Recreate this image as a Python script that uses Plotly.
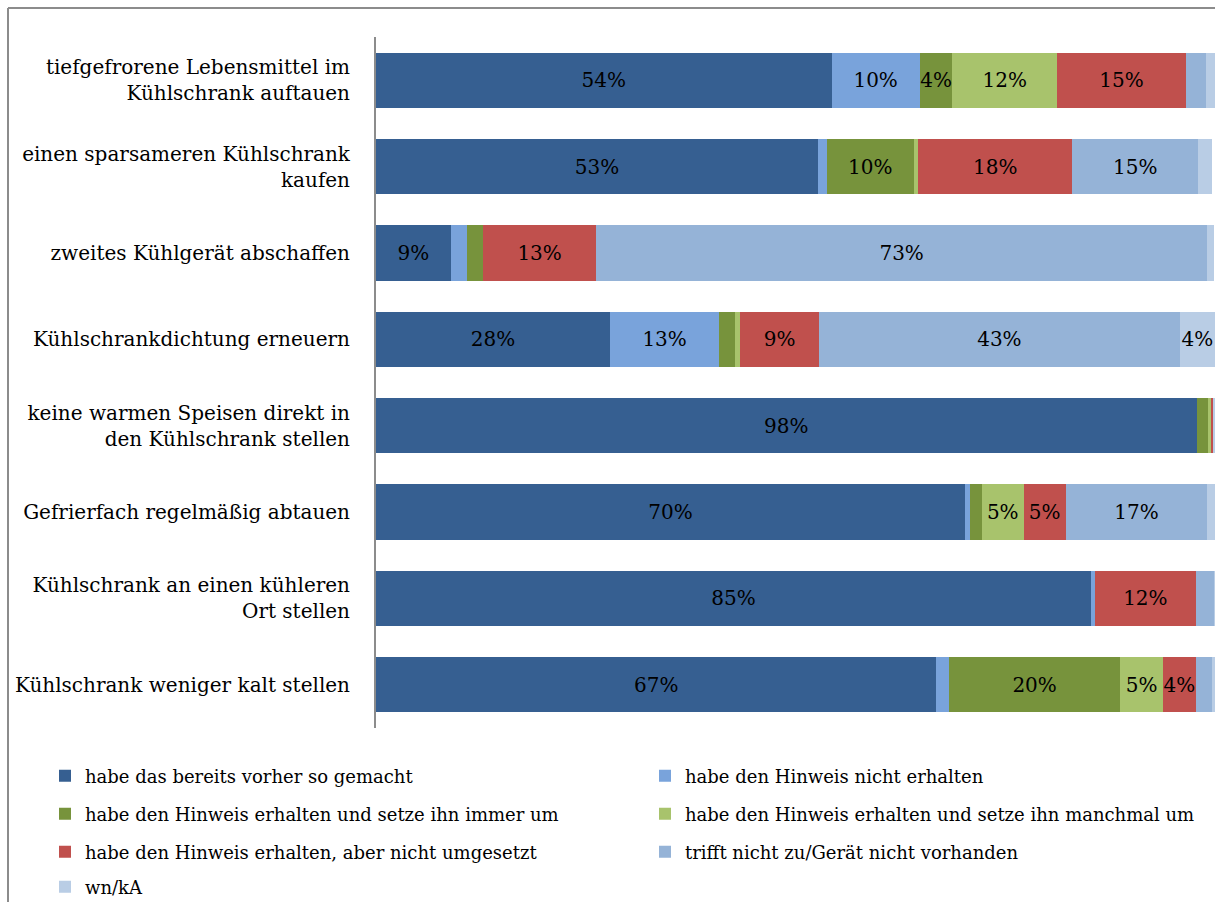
import plotly.graph_objects as go

categories = [
    "tiefgefrorene Lebensmittel im<br>Kühlschrank auftauen",
    "einen sparsameren Kühlschrank<br>kaufen",
    "zweites Kühlgerät abschaffen",
    "Kühlschrankdichtung erneuern",
    "keine warmen Speisen direkt in<br>den Kühlschrank stellen",
    "Gefrierfach regelmäßig abtauen",
    "Kühlschrank an einen kühleren<br>Ort stellen",
    "Kühlschrank weniger kalt stellen",
]

series_names = [
    "habe das bereits vorher so gemacht",
    "habe den Hinweis nicht erhalten",
    "habe den Hinweis erhalten und setze ihn immer um",
    "habe den Hinweis erhalten und setze ihn manchmal um",
    "habe den Hinweis erhalten, aber nicht umgesetzt",
    "trifft nicht zu/Gerät nicht vorhanden",
    "wn/kA",
]

bereits = [54.3, 52.7, 8.9, 27.9, 97.8, 70.2, 85.2, 66.8]
nicht_erhalten = [10.5, 1.0, 2.0, 13.0, 0.0, 0.6, 0.5, 1.5]
immer = [3.9, 10.4, 1.9, 1.9, 1.4, 1.4, 0.0, 20.4]
manchmal = [12.5, 0.5, 0.0, 0.6, 0.4, 5.0, 0.0, 5.1]
nicht_umgesetzt = [15.3, 18.4, 13.4, 9.4, 0.2, 5.0, 12.0, 3.9]
trifft_nicht = [2.4, 15.0, 72.9, 43.0, 0.0, 16.9, 2.2, 1.9]
wn_ka = [1.1, 1.7, 0.8, 4.2, 0.2, 0.9, 0.1, 0.4]

series_values = [bereits, nicht_erhalten, immer, manchmal, nicht_umgesetzt, trifft_nicht, wn_ka]
colors = ["#365F91", "#79A3DB", "#77933C", "#A8C36C", "#C0504D", "#95B3D7", "#B9CDE5"]

FONT = "DejaVu Serif"
legend_ids = ["legend", "legend2", "legend3", "legend4", "legend5", "legend6", "legend7"]

fig = go.Figure()
for name, vals, col, lg in zip(series_names, series_values, colors, legend_ids):
    txt = [f"{round(v)}%" if v >= 3.5 else "" for v in vals]
    fig.add_trace(go.Bar(
        y=categories, x=vals, name=name, orientation="h",
        marker=dict(color=col, line=dict(width=0)),
        text=txt, textposition="inside", insidetextanchor="middle",
        textangle=0, constraintext="none",
        textfont=dict(family=FONT, size=20, color="black"),
        legend=lg, hoverinfo="x+name",
    ))

W, H = 1215, 902
ml, mr, mt = 376, 0, 37
mb = H - 728
pw, ph = W - ml - mr, H - mt - mb

def px_x(p):
    return (p - ml) / pw

def px_y(p):
    return (H - mb - p) / ph

leg_common = dict(orientation="v", xanchor="left", yanchor="middle",
                  font=dict(family=FONT, size=18, color="black"),
                  bgcolor="rgba(0,0,0,0)", itemwidth=30)
legend_pos = [(45, 776), (645, 776), (45, 814), (645, 814), (45, 852), (645, 852), (45, 887)]
layout_legends = {}
for key, (xp, yp) in zip(legend_ids, legend_pos):
    layout_legends[key] = dict(leg_common, x=px_x(xp), y=px_y(yp))

fig.update_layout(
    barmode="stack",
    bargap=0.36,
    width=W, height=H,
    margin=dict(l=ml, r=mr, t=mt, b=mb, autoexpand=False),
    paper_bgcolor="white", plot_bgcolor="white",
    showlegend=True,
    xaxis=dict(range=[0, 100], showticklabels=False, showgrid=False,
               zeroline=False, showline=False, fixedrange=True,
               automargin=False),
    yaxis=dict(autorange="reversed", showgrid=False, zeroline=False,
               showline=True, linecolor="#8C8C8C", linewidth=2,
               ticks="", ticklabelstandoff=20, automargin=False,
               tickfont=dict(family=FONT, size=20, color="black")),
    shapes=[
        dict(type="line", xref="paper", yref="paper",
             x0=px_x(8), y0=px_y(910), x1=px_x(8), y1=px_y(8),
             line=dict(color="#8C8C8C", width=2)),
        dict(type="line", xref="paper", yref="paper",
             x0=px_x(8), y0=px_y(8), x1=px_x(1225), y1=px_y(8),
             line=dict(color="#8C8C8C", width=2)),
    ],
    **layout_legends,
)

fig.write_html(
    "out.html",
    config={"displayModeBar": False},
    post_script="document.body.style.margin='0';document.body.style.overflow='hidden';",
)
